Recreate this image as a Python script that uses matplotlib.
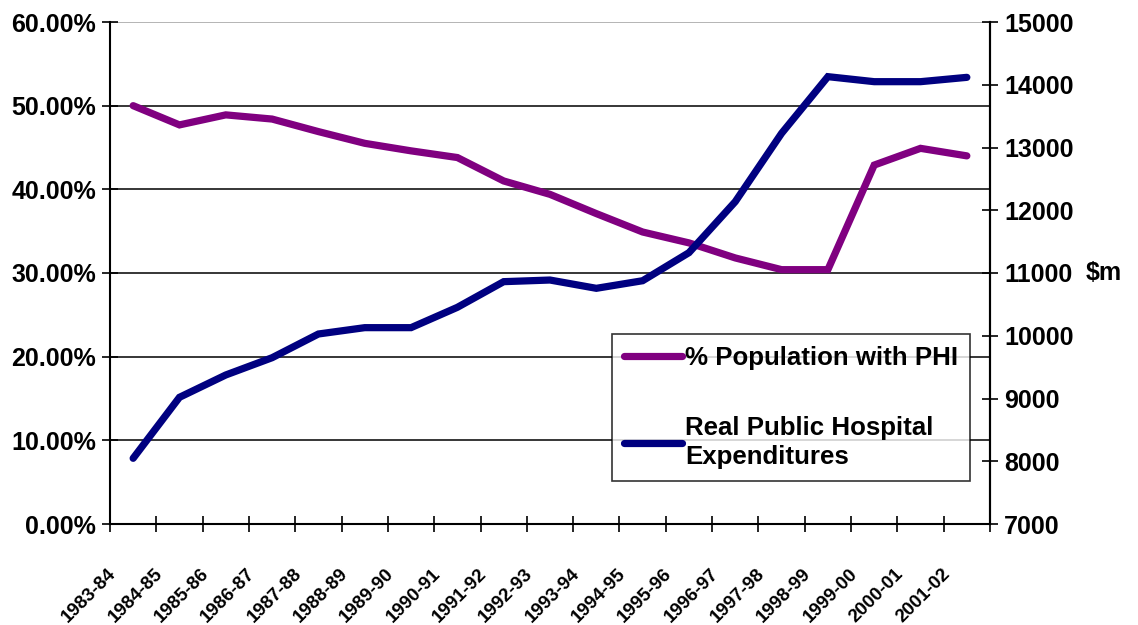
import matplotlib
matplotlib.use("Agg")
import matplotlib.pyplot as plt
import matplotlib.transforms as mtransforms
from matplotlib.ticker import FixedLocator, FuncFormatter

# -----------------------------
# Data
# -----------------------------
years = [
    "1983-84", "1984-85", "1985-86", "1986-87", "1987-88", "1988-89",
    "1989-90", "1990-91", "1991-92", "1992-93", "1993-94", "1994-95",
    "1995-96", "1996-97", "1997-98", "1998-99", "1999-00", "2000-01",
    "2001-02",
]

phi_share = [
    0.500, 0.477, 0.489, 0.484, 0.469, 0.455, 0.446, 0.438, 0.410, 0.394,
    0.371, 0.349, 0.336, 0.318, 0.304, 0.304, 0.429, 0.449, 0.440,
]

hospital_exp = [
    8047, 9019, 9375, 9650, 10028, 10129, 10129, 10453, 10862, 10888,
    10756, 10877, 11324, 12137, 13226, 14129, 14049, 14049, 14118,
]

left_ticks = [0.0, 0.1, 0.2, 0.3, 0.4, 0.5, 0.6]
right_ticks = [7000, 8000, 9000, 10000, 11000, 12000, 13000, 14000, 15000]

PURPLE = "#800080"
NAVY = "#000080"

plt.rcParams["font.family"] = ["Liberation Sans", "DejaVu Sans"]
plt.rcParams["font.weight"] = "bold"

# -----------------------------
# Figure
# -----------------------------
fig = plt.figure(figsize=(11.38, 6.25), dpi=100)
W, H = 1138, 625
ax = fig.add_axes([110 / W, 1 - 524 / H, 880 / W, 502 / H])
ax2 = ax.twinx()

x = list(range(len(years)))

ax.plot(x, phi_share, color=PURPLE, lw=5.2, solid_capstyle="round",
        solid_joinstyle="miter", label="% Population with PHI", zorder=3)
ax2.plot(x, hospital_exp, color=NAVY, lw=5.2, solid_capstyle="round",
         solid_joinstyle="miter",
         label="Real Public Hospital\nExpenditures", zorder=3)

ax.set_xlim(-0.5, len(years) - 0.5)
ax.set_ylim(0, 0.6)
ax2.set_ylim(7000, 15000)

# left axis
ax.set_yticks(left_ticks)
ax.yaxis.set_major_formatter(FuncFormatter(lambda v, p: f"{v * 100:.2f}%"))
ax.tick_params(axis="y", direction="inout", length=12, width=1.2,
               labelsize=18, pad=4)
ax.yaxis.grid(True, color="black", lw=1.1)
ax.set_axisbelow(True)
gl = ax.yaxis.get_gridlines()
gl[-1].set_color("#a0a0a0")

# right axis
ax2.set_yticks(right_ticks)
ax2.tick_params(axis="y", direction="inout", length=12, width=1.2,
                labelsize=18, pad=4)
ax2.set_ylabel("\\$m", rotation=0, fontsize=18, fontweight="bold",
               va="center", ha="left", labelpad=9)

# x axis: ticks at category boundaries, labels at centres
ax.set_xticks(x)
ax.set_xticklabels(years, rotation=45, ha="right", va="center",
                   rotation_mode="anchor", fontsize=13.5)
ax.tick_params(axis="x", which="major", length=0, pad=34)
ax.xaxis.set_minor_locator(FixedLocator([i - 0.5 for i in range(len(years) + 1)]))
ax.tick_params(axis="x", which="minor", direction="inout", length=12, width=1.2)
shift = mtransforms.ScaledTranslation(-14 / 72, 0, fig.dpi_scale_trans)
for lbl in ax.get_xticklabels():
    lbl.set_transform(lbl.get_transform() + shift)

for a in (ax, ax2):
    a.spines["top"].set_visible(False)
    a.spines["left"].set_linewidth(1.5)
    a.spines["right"].set_linewidth(1.5)
    a.spines["bottom"].set_linewidth(1.5)
ax2.spines["left"].set_visible(False)
ax2.spines["bottom"].set_visible(False)

# legend
h1, l1 = ax.get_legend_handles_labels()
h2, l2 = ax2.get_legend_handles_labels()
leg = ax2.legend(h1 + h2, l1 + l2, loc="upper left",
                 bbox_to_anchor=(612 / W, 1 - 334 / H), bbox_transform=fig.transFigure,
                 prop={"size": 18.6, "weight": "bold"}, frameon=True, fancybox=False,
                 edgecolor="black", handlelength=2.25, handletextpad=0.12,
                 labelspacing=1.8, borderpad=0.45, borderaxespad=0)
leg.get_frame().set_linewidth(1.2)
for t in leg.get_texts():
    t.set_linespacing(1.28)

fig.savefig("out.png", dpi=100, facecolor="white")
